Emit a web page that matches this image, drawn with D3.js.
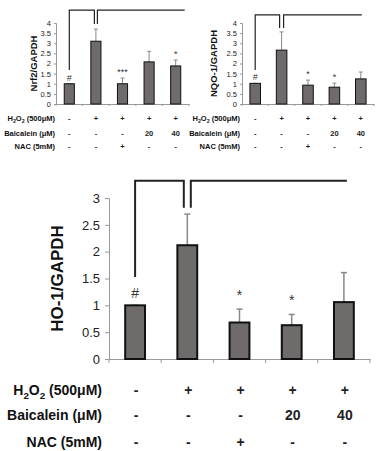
<!DOCTYPE html>
<html><head><meta charset="utf-8">
<script src="https://cdn.jsdelivr.net/npm/d3@7"></script>
<style>body{margin:0;background:#fff}svg{display:block}text{font-family:"Liberation Sans",Arial,sans-serif}</style>
</head><body>
<svg id="c" width="381" height="451"></svg>
<script>
const groups = ["g1","g2","g3","g4","g5"];
const h2o2Row = ["-","+","+","+","+"];
const baicaleinRow = ["-","-","-","20","40"];
const nacRow = ["-","-","+","-","-"];
const rowLabels = ["H2O2 (500\u03bcM)","Baicalein (\u03bcM)","NAC (5mM)"];

const nrf2Values = [1.0, 3.1, 1.0, 2.08, 1.88];
const nrf2Errors = [0.0, 0.6, 0.28, 0.52, 0.29];
const nrf2Marks = ["#","","***","","*"];
const nrf2Ticks = [0,0.5,1,1.5,2,2.5,3,3.5,4];

const nqoValues = [1.02, 2.66, 0.93, 0.83, 1.24];
const nqoErrors = [0.0, 0.9, 0.25, 0.2, 0.34];
const nqoMarks = ["#","","*","*",""];
const nqoTicks = [0,0.5,1,1.5,2,2.5,3,3.5,4];

const hoValues = [1.0, 2.12, 0.68, 0.63, 1.06];
const hoErrors = [0.0, 0.58, 0.25, 0.2, 0.55];
const hoMarks = ["#","","*","*",""];
const hoTicks = [0,0.5,1,1.5,2,2.5,3];

const svg = d3.select("#c");

function panel(o){
  const g = svg.append("g");
  const x = d3.scaleBand().domain(groups).range([o.x0,o.x1]).paddingInner(0).paddingOuter(0);
  const y = d3.scaleLinear().domain([0,o.ymax]).range([o.y0,o.ytop]);
  const bw = x.bandwidth()*o.barFrac;
  const ya = g.append("g").attr("transform",`translate(${o.x0},0)`)
    .call(d3.axisLeft(y).tickValues(o.ticks).tickSize(o.tick).tickPadding(o.pad).tickFormat(d=>d));
  ya.select(".domain").attr("stroke","#999").attr("stroke-width",1);
  ya.selectAll(".tick line").attr("stroke","#999");
  ya.selectAll(".tick text").attr("fill","#222").style("font-size",o.tfs+"px").style("font-family","'Liberation Sans',Arial,sans-serif");
  const xa = g.append("g").attr("transform",`translate(0,${o.y0})`)
    .call(d3.axisBottom(x).tickSize(0).tickFormat(""));
  xa.select(".domain").attr("stroke","#999");
  const bounds = [o.x0].concat(groups.map(d=>x(d)+x.bandwidth()));
  g.selectAll(".xt").data(bounds).join("line").attr("x1",d=>d).attr("x2",d=>d)
    .attr("y1",o.y0).attr("y2",o.y0+o.tick).attr("stroke","#999");
  const cx = d=>x(d)+x.bandwidth()/2;
  g.selectAll(".eb").data(groups).join("line")
    .attr("x1",cx).attr("x2",cx)
    .attr("y1",(d,i)=>y(o.values[i])).attr("y2",(d,i)=>y(o.values[i]+o.errors[i]))
    .attr("stroke","#888").attr("stroke-width",o.ebw);
  g.selectAll(".ec").data(groups).join("line")
    .attr("x1",d=>cx(d)-o.cap).attr("x2",d=>cx(d)+o.cap)
    .attr("y1",(d,i)=>y(o.values[i]+o.errors[i])).attr("y2",(d,i)=>y(o.values[i]+o.errors[i]))
    .attr("stroke","#888").attr("stroke-width",o.ebw);
  g.selectAll(".bar").data(groups).join("rect")
    .attr("x",d=>cx(d)-bw/2).attr("width",bw)
    .attr("y",(d,i)=>y(o.values[i])).attr("height",(d,i)=>o.y0-y(o.values[i]))
    .attr("fill","#6f6b6b").attr("stroke","#111").attr("stroke-width",o.bsw);
  g.selectAll(".mk").data(groups).join("text")
    .attr("x",cx).attr("y",(d,i)=>y(o.values[i]+o.errors[i])-(o.marks[i]==="#"?o.hashOff:o.mkOff))
    .attr("text-anchor","middle").style("font-size",o.mfs+"px").attr("fill","#333")
    .text((d,i)=>o.marks[i]);
  const c1 = cx(groups[0]), c2 = cx(groups[1]), c5 = cx(groups[4]);
  const line = d3.line();
  g.append("path").attr("d",line([[c1,y(o.bLeft)],[c1,y(o.bTop)],[c2-o.gap,y(o.bTop)],[c2-o.gap,y(o.bMid)]]))
    .attr("fill","none").attr("stroke","#222").attr("stroke-width",o.brw);
  g.append("path").attr("d",line([[c2+o.gap,y(o.bMid)],[c2+o.gap,y(o.bTop)],[c5+o.endOff,y(o.bTop)]]))
    .attr("fill","none").attr("stroke","#222").attr("stroke-width",o.brw);
  g.append("text").attr("transform",`translate(${o.labX},${(o.y0+o.ytop)/2}) rotate(-90)`)
    .attr("text-anchor","middle").attr("dominant-baseline","central")
    .style("font-size",o.lfs+"px").style("font-weight","bold").attr("fill","#111").text(o.label);
  const rows = [h2o2Row, baicaleinRow, nacRow];
  rows.forEach((r,ri)=>{
    const ty = o.rowY[ri];
    const t = g.append("text").attr("x",o.rowLabX).attr("y",ty).attr("text-anchor","end")
      .attr("dominant-baseline","central").style("font-size",o.rfs+"px").style("font-weight","bold").attr("fill","#111");
    if(ri===0){
      t.append("tspan").text("H");
      t.append("tspan").attr("baseline-shift","sub").style("font-size",(o.rfs*0.7)+"px").text("2");
      t.append("tspan").text("O");
      t.append("tspan").attr("baseline-shift","sub").style("font-size",(o.rfs*0.7)+"px").text("2");
      t.append("tspan").text(" (500\u03bcM)");
    } else t.text(rowLabels[ri]);
    g.selectAll(null).data(groups).join("text")
      .attr("x",d=>cx(d)+o.colShift).attr("y",ty).attr("text-anchor","middle")
      .attr("dominant-baseline","central")
      .style("font-size",o.rfs+"px").style("font-weight","bold").attr("fill","#222")
      .text((d,i)=>r[i]);
  });
}

panel({x0:56,x1:189,y0:104,ytop:23,ymax:4,ticks:nrf2Ticks,values:nrf2Values,errors:nrf2Errors,marks:nrf2Marks,
  barFrac:0.38,tick:2,pad:3,tfs:7.5,ebw:1,cap:2,bsw:1,mkOff:3,hashOff:3,mfs:9,
  bLeft:1.68,bTop:4.64,bMid:3.95,gap:1.5,endOff:9,brw:1.2,label:"Nrf2/GAPDH",labX:33,lfs:9.5,
  rowY:[118,133,146],rowLabX:55,rfs:7.5,colShift:0});
panel({x0:242,x1:374,y0:104,ytop:23,ymax:4,ticks:nqoTicks,values:nqoValues,errors:nqoErrors,marks:nqoMarks,
  barFrac:0.4,tick:2,pad:3,tfs:7.5,ebw:1,cap:2,bsw:1,mkOff:3,hashOff:3,mfs:9,
  bLeft:1.68,bTop:4.4,bMid:3.75,gap:2,endOff:1,brw:1.2,label:"NQO-1/GAPDH",labX:213,lfs:9.5,
  rowY:[118,133,146],rowLabX:240,rfs:7.5,colShift:0});
panel({x0:109,x1:370,y0:359,ytop:198,ymax:3,ticks:hoTicks,values:hoValues,errors:hoErrors,marks:hoMarks,
  barFrac:0.38,tick:4,pad:5,tfs:13,ebw:1.5,cap:3,bsw:2,mkOff:9,hashOff:7,mfs:14,
  bLeft:1.53,bTop:3.32,bMid:2.82,gap:3.5,endOff:3,brw:2,label:"HO-1/GAPDH",labX:57,lfs:17,
  rowY:[390,415,442],rowLabX:102,rfs:14,colShift:1});
</script>
</body></html>
